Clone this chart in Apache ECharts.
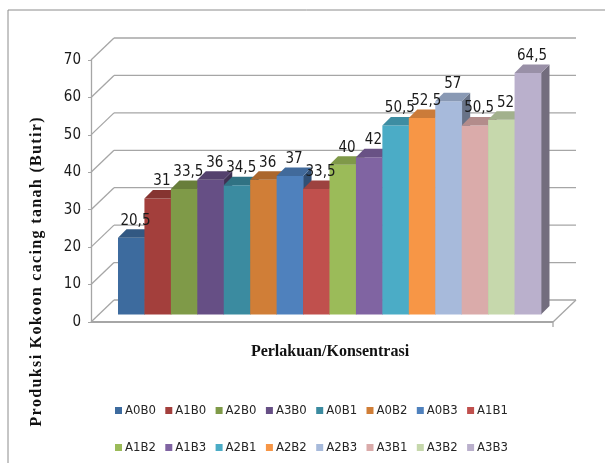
<!DOCTYPE html>
<html><head><meta charset="utf-8">
<script src="https://cdn.jsdelivr.net/npm/echarts@6/dist/echarts.min.js"></script>
<style>html,body{margin:0;padding:0;background:#fff}#c{width:605px;height:468px}</style>
</head><body><div id="c"></div>
<script>
// ---- data ----
const categories = [''];
const seriesNames = ['A0B0','A1B0','A2B0','A3B0','A0B1','A0B2','A0B3','A1B1',
                     'A1B2','A1B3','A2B1','A2B2','A2B3','A3B1','A3B2','A3B3'];
const seriesValues = [20.5,31,33.5,36,34.5,36,37,33.5,40,42,50.5,52.5,57,50.5,52,64.5];
const yTicks = [0,10,20,30,40,50,60,70];
const xTitle = 'Perlakuan/Konsentrasi';
const yTitle = 'Produksi Kokoon cacing tanah (Butir)';

// ---- styles ----
const seriesColors = ['#3d6b9e','#a33f3c','#7f9a48','#664f85','#3b8ba0','#d07e37','#4f81bd','#c0504d',
                      '#9bbb59','#8064a2','#4bacc6','#f79646','#a7badb','#daabaa','#c6d8ac','#bab0cc'];
const WALL = {dx: 23, dy: -22};   // back wall offset
const OFF = 7.5;                   // bar front plane offset
const BD = 8.5;                    // bar depth
const GROUP = 0.9156;              // share of category band used by bars
const narrow = '"Liberation Sans Narrow","DejaVu Sans Condensed","Liberation Sans",sans-serif';
const serif = '"Liberation Serif","DejaVu Serif",serif';

function shade(hex, f){
  const n = parseInt(hex.slice(1),16);
  const r = Math.round(((n>>16)&255)*f), g = Math.round(((n>>8)&255)*f), b = Math.round((n&255)*f);
  return 'rgb(' + r + ',' + g + ',' + b + ')';
}
function fmt(v){ return String(v).replace('.', ','); }
function spaced(s){ return s.split('').join('\u200A'); }

function frameRender(params, api){
  const cs = params.coordSys;
  const v = api.value(1);
  const y = api.coord([0, v])[1];
  const L = cs.x, R = cs.x + cs.width;
  const st = {stroke:'#a6a6a6', lineWidth:1.3};
  const ch = [
    {type:'line', shape:{x1:L, y1:y, x2:L+WALL.dx, y2:y+WALL.dy}, style:st},
    {type:'line', shape:{x1:L+WALL.dx, y1:y+WALL.dy, x2:R+WALL.dx, y2:y+WALL.dy}, style:st}
  ];
  if (v === 0){
    ch.push({type:'line', shape:{x1:L, y1:y, x2:R, y2:y}, style:{stroke:'#a6a6a6', lineWidth:1.8}});
    ch.push({type:'line', shape:{x1:R, y1:y, x2:R+WALL.dx, y2:y+WALL.dy}, style:st});
    ch.push({type:'line', shape:{x1:R, y1:y, x2:R, y2:y+5}, style:st});
  }
  return {type:'group', children:ch};
}

function barRender(i){
  return function(params, api){
    const val = api.value(1);
    const base = api.coord([0, 0]);
    const top = api.coord([0, val]);
    const band = api.size([1, 0])[0];
    const gw = band * GROUP;
    const w = gw / seriesNames.length;
    const x0 = base[0] - gw/2 + i*w + OFF;
    const yb = base[1] - OFF, yt = top[1] - OFF;
    const c = seriesColors[i];
    return {type:'group', children:[
      {type:'polygon', shape:{points:[[x0+w,yt],[x0+w+BD,yt-BD],[x0+w+BD,yb-BD],[x0+w,yb]]}, style:{fill:shade(c,0.62)}},
      {type:'rect', shape:{x:x0, y:yt, width:w+0.4, height:yb-yt}, style:{fill:c}},
      {type:'polygon', shape:{points:[[x0,yt],[x0+w,yt],[x0+w+BD,yt-BD],[x0+BD,yt-BD]]}, style:{fill:shade(c,0.82)}},
      {type:'text', z2:100, x:x0 + w/2 + BD/2, y:yt - BD - 1, style:{text:fmt(val), align:'center', verticalAlign:'bottom',
        font:'15px ' + narrow, fill:'#1a1a1a'}}
    ]};
  };
}

const series = [{
  type:'custom', name:'frame', renderItem:frameRender, clip:false, silent:true, z:1,
  data: yTicks.map(v => [0, v])
}];
seriesNames.forEach((n, i) => {
  series.push({type:'custom', name:n, renderItem:barRender(i), clip:false, z:2,
    itemStyle:{color:seriesColors[i]}, data:[[0, seriesValues[i]]]});
});

const legends = seriesNames.map((n, i) => ({
  data:[n], left: 115 + (i % 8) * 50.3, top: i < 8 ? 404 : 441,
  icon:'rect', itemWidth:7, itemHeight:7, selectedMode:false, padding:0,
  textStyle:{fontSize:13, fontFamily:narrow, color:'#262626', padding:[0,0,0,-2]}
}));

const chart = echarts.init(document.getElementById('c'), null, {renderer:'canvas'});
chart.setOption({
  animation:false,
  backgroundColor:'#fff',
  grid:{left:91, top:60, width:462, height:262},
  xAxis:{type:'category', data:categories, show:false},
  yAxis:{type:'value', min:0, max:70, interval:10,
    axisLine:{show:true, lineStyle:{color:'#a6a6a6', width:1.3}},
    axisTick:{show:true, length:3, lineStyle:{color:'#a6a6a6'}},
    splitLine:{show:false},
    axisLabel:{margin:10, fontSize:15, fontFamily:narrow, color:'#1a1a1a'}},
  legend: legends,
  graphic:[
    {type:'polyline', shape:{points:[[8,463],[8,10],[605,10]]}, style:{stroke:'#8c8c8c', lineWidth:1, fill:null}},
    {type:'text', x:330, y:352, style:{text:xTitle, align:'center', verticalAlign:'middle',
      font:'bold 16px ' + serif, fill:'#111'}},
    {type:'text', x:37, y:272, rotation:Math.PI/2, style:{text:spaced(yTitle), align:'center', verticalAlign:'middle',
      font:'bold 16px ' + serif, fill:'#111'}}
  ],
  series: series
});
</script></body></html>
